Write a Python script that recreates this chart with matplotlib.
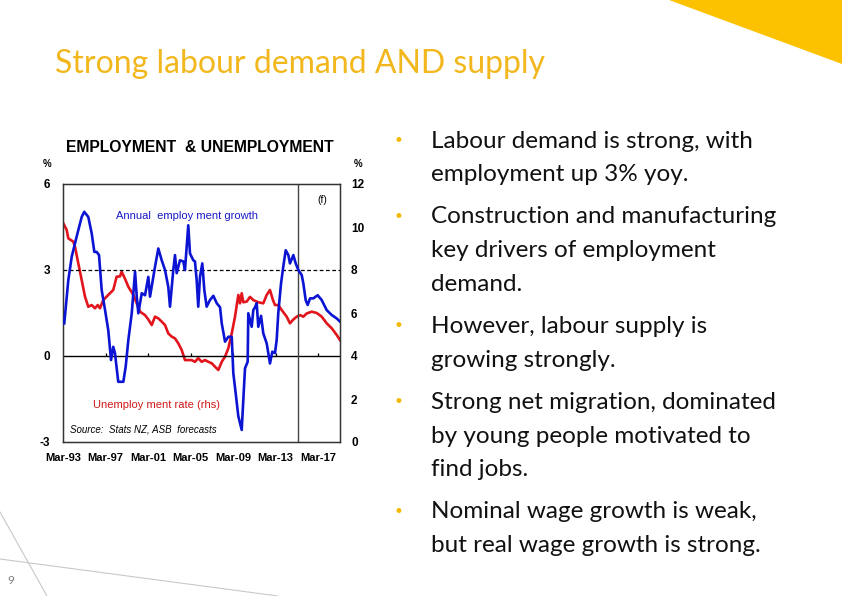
import numpy as np
import matplotlib
matplotlib.use("Agg")
from matplotlib import pyplot as plt
from matplotlib.patches import Polygon

plt.rcParams['axes.unicode_minus'] = False

# annual employment growth (%, lhs)
emp_year = [1993.29, 1993.67, 1993.99, 1994.37, 1994.61, 1994.93, 1995.17, 1995.55, 1995.87,
            1996.12, 1996.34, 1996.56, 1996.81, 1997.13, 1997.43, 1997.69, 1997.90, 1998.06,
            1998.37, 1998.85, 1999.07, 1999.32, 1999.64, 1999.95, 2000.11, 2000.26, 2000.58,
            2000.89, 2001.20, 2001.36, 2001.67, 2001.83, 2002.14, 2002.46, 2002.77, 2003.08,
            2003.24, 2003.55, 2003.71, 2003.87, 2004.18, 2004.49, 2004.65, 2004.81, 2004.96,
            2005.12, 2005.43, 2005.59, 2005.75, 2005.90, 2006.06, 2006.28, 2006.47, 2006.69,
            2007.00, 2007.32, 2007.64, 2007.95, 2008.11, 2008.42, 2008.73, 2009.05, 2009.20,
            2009.36, 2009.67, 2009.99, 2010.14, 2010.30, 2010.55, 2010.61, 2010.93, 2011.08,
            2011.24, 2011.40, 2011.55, 2011.81, 2012.02, 2012.34, 2012.65, 2012.87, 2013.12,
            2013.28, 2013.43, 2013.69, 2013.90, 2014.13, 2014.38, 2014.53, 2014.85, 2015.07,
            2015.32, 2015.64, 2015.79, 2016.01, 2016.20, 2016.42, 2016.73, 2017.14, 2017.52,
            2017.99, 2018.46, 2018.93, 2019.24]
emp_growth = [1.14, 2.65, 3.46, 4.04, 4.39, 4.85, 5.03, 4.85, 4.28,
              3.63, 3.63, 3.52, 2.30, 1.60, 0.90, -0.14, 0.32, 0.10,
              -0.90, -0.90, -0.37, 0.56, 1.49, 2.94, 2.07, 1.49, 2.19,
              2.12, 2.76, 2.07, 2.76, 3.11, 3.75, 3.34, 3.00, 2.41,
              1.72, 3.00, 3.52, 2.89, 3.34, 3.30, 3.00, 3.81, 4.56,
              3.58, 3.34, 3.30, 2.65, 1.72, 2.76, 3.23, 2.30, 1.72,
              1.95, 2.10, 1.84, 1.70, 1.14, 0.50, 0.67, 0.67, -0.60,
              -1.10, -2.10, -2.58, -1.53, -0.43, -0.20, 1.49, 1.02, 1.60,
              1.70, 1.84, 1.02, 1.40, 0.79, 0.44, -0.26, 0.15, 0.10,
              0.56, 1.49, 2.53, 3.11, 3.69, 3.52, 3.23, 3.52, 3.23,
              3.00, 2.82, 2.53, 1.95, 1.78, 2.01, 2.01, 2.12, 1.95,
              1.60, 1.43, 1.31, 1.20]

# unemployment rate (%, rhs)
unemp_year = [1993.20, 1993.52, 1993.67, 1994.14, 1994.30, 1994.61, 1994.93, 1995.24, 1995.55,
              1995.87, 1996.18, 1996.44, 1996.65, 1996.96, 1997.43, 1997.90, 1998.22, 1998.53,
              1998.69, 1999.00, 1999.32, 1999.79, 2000.11, 2000.42, 2000.89, 2001.20, 2001.52,
              2001.83, 2002.14, 2002.46, 2002.77, 2003.08, 2003.40, 2003.71, 2004.02, 2004.34,
              2004.65, 2004.96, 2005.28, 2005.59, 2005.90, 2006.22, 2006.53, 2006.85, 2007.17,
              2007.48, 2007.79, 2008.11, 2008.42, 2008.73, 2009.05, 2009.36, 2009.67, 2009.83,
              2009.99, 2010.14, 2010.46, 2010.77, 2011.08, 2011.55, 2012.02, 2012.34, 2012.65,
              2012.93, 2013.12, 2013.43, 2013.75, 2014.22, 2014.53, 2014.85, 2015.17, 2015.48,
              2015.79, 2016.11, 2016.58, 2017.05, 2017.52, 2017.99, 2018.46, 2018.93, 2019.24]
unemp_rate = [10.17, 9.86, 9.47, 9.32, 9.08, 8.31, 7.53, 6.76, 6.29,
              6.37, 6.22, 6.37, 6.22, 6.60, 6.84, 7.07, 7.69, 7.70,
              7.92, 7.60, 7.22, 6.84, 6.45, 6.06, 5.90, 5.70, 5.44,
              5.83, 5.75, 5.60, 5.44, 5.05, 4.90, 4.82, 4.59, 4.28,
              3.81, 3.81, 3.81, 3.73, 3.90, 3.73, 3.81, 3.73, 3.66,
              3.50, 3.35, 3.73, 3.97, 4.36, 5.05, 5.83, 6.84, 6.45,
              6.92, 6.50, 6.53, 6.75, 6.60, 6.50, 6.45, 6.84, 7.07,
              6.60, 6.37, 6.37, 6.14, 5.83, 5.52, 5.70, 5.83, 5.90,
              5.83, 5.98, 6.06, 6.00, 5.83, 5.52, 5.29, 4.98, 4.74]

tick_years = [1993.17, 1997.17, 2001.17, 2005.17, 2009.17, 2013.17, 2017.17]
tick_labels = ['Mar-93', 'Mar-97', 'Mar-01', 'Mar-05', 'Mar-09', 'Mar-13', 'Mar-17']
forecast_start = 2015.29

bullets = [
    ["Labour demand is strong, with", "employment up 3% yoy."],
    ["Construction and manufacturing", "key drivers of employment", "demand."],
    ["However, labour supply is", "growing strongly."],
    ["Strong net migration, dominated", "by young people motivated to", "find jobs."],
    ["Nominal wage growth is weak,", "but real wage growth is strong."],
]

W, H = 842, 596
fig = plt.figure(figsize=(W / 100, H / 100), dpi=100)

# slide background layer in pixel coords
bg = fig.add_axes([0, 0, 1, 1])
bg.set_xlim(0, W)
bg.set_ylim(H, 0)
bg.axis('off')
bg.add_patch(Polygon([[669, 0], [842, 0], [842, 64]], closed=True, color='#fcc200', lw=0))
bg.plot([0, 278], [559, 596], color='#c8c8c8', lw=0.8)
bg.plot([0, 47], [512, 596], color='#c8c8c8', lw=0.8)
bg.text(11, 581, '9', fontsize=8.5, color='#7f7f7f', ha='center', va='center', family='Lato')
bg.text(55, 64, 'Strong labour demand AND supply', fontsize=23, color='#f2b71c',
        ha='left', va='center', family='Lato')

y = 141
for para in bullets:
    bg.text(398, y, '\u2022', fontsize=12, color='#f5b800', ha='center', va='center')
    for line in para:
        bg.text(431, y, line, fontsize=17.5, color='#111111', ha='left', va='center', family='Lato')
        y += 33.7
    y += 8.5

# chart title and units
bg.text(200, 148, 'EMPLOYMENT  & UNEMPLOYMENT', fontsize=11.3, weight='bold',
        ha='center', va='center', family='Liberation Sans')
bg.text(47, 164, '%', fontsize=7, weight='bold', ha='center', va='center', family='Liberation Sans')
bg.text(358, 164, '%', fontsize=7, weight='bold', ha='center', va='center', family='Liberation Sans')

ax = fig.add_axes([63 / W, 1 - 442 / H, 277 / W, 258 / H])
ax2 = ax.twinx()

ax.plot(emp_year, emp_growth, color='#0a14d2', lw=1.9, zorder=3)
ax2.plot(unemp_year, unemp_rate, color='#e2141c', lw=1.9, zorder=2)

ax.set_xlim(1993.17, 2019.24)
ax.set_ylim(-3, 6)
ax2.set_ylim(0, 12)
ax.set_zorder(ax2.get_zorder() + 1)
ax.patch.set_visible(False)

ax.axhline(0, color='black', lw=1.0)
ax.axhline(3, color='black', lw=0.9, ls=(0, (3, 2)))
ax.axvline(forecast_start, color='#444444', lw=1.0)
ax.vlines(tick_years[1:], 0, 0.12, color='black', lw=0.9)

ax.set_yticks([-3, 0, 3, 6])
ax2.set_yticks([0, 2, 4, 6, 8, 10, 12])
ax.set_xticks(tick_years)
ax.set_xticklabels(tick_labels)
for a in (ax, ax2):
    a.tick_params(length=0, labelsize=8.5)
    for lab in a.get_xticklabels() + a.get_yticklabels():
        lab.set_family('Liberation Sans')
        lab.set_weight('bold')
ax.tick_params(axis='x', labelsize=8)
ax.tick_params(axis='y', pad=9)
ax2.tick_params(axis='y', pad=8)
ax.tick_params(axis='x', pad=8)
for s in ax.spines.values():
    s.set_linewidth(1.0)
    s.set_color('#333333')

ax.text(2004.84, 4.87, 'Annual  employ ment growth', color='#1a1ac8', fontsize=8,
        ha='center', va='center', family='Liberation Sans')
ax2.text(2001.97, 1.73, 'Unemploy ment rate (rhs)', color='#d01818', fontsize=8,
         ha='center', va='center', family='Liberation Sans')
ax2.text(1993.8, 0.6, 'Source:  Stats NZ, ASB  forecasts', color='black', fontsize=7,
         style='italic', ha='left', va='center', family='Liberation Sans')
ax.text(2017.6, 5.45, '(f)', fontsize=7.5, ha='center', va='center', family='Liberation Sans')

fig.savefig('out.png', dpi=100)
